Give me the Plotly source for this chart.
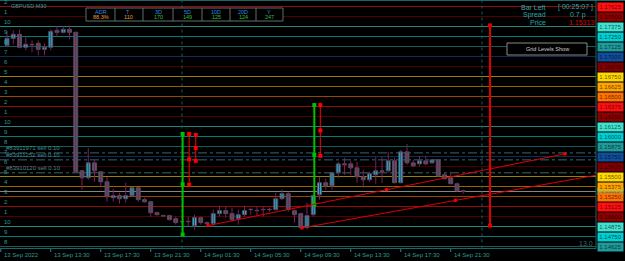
import plotly.graph_objects as go

# ---------------- data: GBPUSD M30, bars from 13 Sep 2022 10:00 ----------------
opens = [1.17140, 1.17227, 1.17277, 1.17115, 1.17152, 1.17165, 1.17090, 1.17115, 1.17327, 1.17302,
         1.17339, 1.17302, 1.15571, 1.15484, 1.15671, 1.15559, 1.15434, 1.15235, 1.15260, 1.15222,
         1.15260, 1.15359, 1.15210, 1.15185, 1.15048, 1.15011, 1.15011, 1.14973, 1.14936, 1.14936,
         1.14886, 1.14986, 1.14924, 1.14911, 1.15036, 1.15073, 1.15036, 1.14973, 1.15023, 1.15086,
         1.15073, 1.15086, 1.15086, 1.15086, 1.15222, 1.15285, 1.15073, 1.15036, 1.14861, 1.15023,
         1.15272, 1.15422, 1.15384, 1.15546, 1.15658, 1.15658, 1.15608, 1.15496, 1.15459, 1.15521,
         1.15571, 1.15571, 1.15696, 1.15422, 1.15808, 1.15671, 1.15658, 1.15696, 1.15671, 1.15708,
         1.15521, 1.15484, 1.15409, 1.15322]
highs = [1.17314, 1.17327, 1.17339, 1.17252, 1.17202, 1.17202, 1.17165, 1.17339, 1.17376, 1.17376,
         1.17389, 1.17314, 1.15584, 1.15857, 1.15708, 1.15559, 1.15496, 1.15347, 1.15297, 1.15422,
         1.15372, 1.15372, 1.15235, 1.15198, 1.15061, 1.15023, 1.15023, 1.14998, 1.14949, 1.14998,
         1.15023, 1.14998, 1.14936, 1.15086, 1.15135, 1.15123, 1.15110, 1.15086, 1.15135, 1.15110,
         1.15123, 1.15123, 1.15110, 1.15297, 1.15335, 1.15310, 1.15086, 1.15048, 1.15173, 1.15272,
         1.15496, 1.15471, 1.15559, 1.15683, 1.15733, 1.15696, 1.15683, 1.15584, 1.15559, 1.15745,
         1.15745, 1.15808, 1.15733, 1.15833, 1.15907, 1.15708, 1.15758, 1.15758, 1.15720, 1.15720,
         1.15546, 1.15559, 1.15422, 1.15335]
lows = [1.17115, 1.17152, 1.17102, 1.17078, 1.17053, 1.17015, 1.17015, 1.17078, 1.17252, 1.17289,
        1.17214, 1.15546, 1.15335, 1.15459, 1.15434, 1.15372, 1.15185, 1.15185, 1.15160, 1.15173,
        1.15247, 1.15185, 1.15173, 1.14998, 1.15011, 1.14998, 1.14949, 1.14899, 1.14924, 1.14874,
        1.14837, 1.14899, 1.14886, 1.14874, 1.14998, 1.14986, 1.14936, 1.14899, 1.14998, 1.15023,
        1.15011, 1.14998, 1.15061, 1.15073, 1.15210, 1.15061, 1.14924, 1.14837, 1.14837, 1.14998,
        1.15210, 1.15335, 1.15335, 1.15484, 1.15521, 1.15521, 1.15422, 1.15359, 1.15434, 1.15409,
        1.15422, 1.15546, 1.15422, 1.15422, 1.15646, 1.15621, 1.15633, 1.15646, 1.15658, 1.15496,
        1.15471, 1.15409, 1.15310, 1.15285]
closes = [1.17227, 1.17277, 1.17115, 1.17152, 1.17146, 1.17090, 1.17115, 1.17314, 1.17302, 1.17339,
          1.17302, 1.15559, 1.15484, 1.15671, 1.15571, 1.15434, 1.15247, 1.15260, 1.15222, 1.15260,
          1.15359, 1.15210, 1.15185, 1.15048, 1.15023, 1.15005, 1.14961, 1.14924, 1.14936, 1.14936,
          1.14986, 1.14924, 1.14911, 1.15036, 1.15073, 1.15036, 1.14961, 1.15023, 1.15073, 1.15086,
          1.15073, 1.15086, 1.15086, 1.15222, 1.15285, 1.15086, 1.15023, 1.14861, 1.15011, 1.15260,
          1.15422, 1.15384, 1.15546, 1.15658, 1.15646, 1.15608, 1.15496, 1.15459, 1.15534, 1.15571,
          1.15565, 1.15696, 1.15422, 1.15808, 1.15671, 1.15633, 1.15696, 1.15658, 1.15708, 1.15509,
          1.15471, 1.15409, 1.15322, 1.15313]
bar_pos = list(range(len(opens)))

time_tick_pos = [-1, 7, 15, 23, 31, 39, 47, 55, 63, 71]
time_tick_labels = ["13 Sep 2022", "13 Sep 13:30", "13 Sep 17:30", "13 Sep 21:30", "14 Sep 01:30",
                    "14 Sep 05:30", "14 Sep 09:30", "14 Sep 13:30", "14 Sep 17:30", "14 Sep 21:30"]
day_separators = [28, 76]

grid_levels = [1.17625, 1.17500, 1.17375, 1.17250, 1.17125, 1.17000, 1.16875, 1.16750, 1.16625,
               1.16500, 1.16375, 1.16250, 1.16125, 1.16000, 1.15875, 1.15750, 1.15625, 1.15500,
               1.15375, 1.15250, 1.15125, 1.15000, 1.14875, 1.14750, 1.14625]
grid_numbers = ["2", "1", "10", "9", "8", "7", "6", "5", "4", "3", "2", "1", "10", "9", "8", "7",
                "6", "5", "4", "3", "2", "1", "10", "9", "8"]
grid_cycle_colors = ["#ff1010", "#8b0000", "#40e0d0", "#00ced1", "#1e9a9a",
                     "#104e9b", "#800000", "#ffd700", "#ffa500", "#ff7000"]

trade_levels = [1.15795, 1.15708, 1.15546]
trade_labels = ["#83911971 sell 0.10", "#83911252 sell 0.10", "#83910120 sell 0.10"]

current_price = 1.15313

trend1_x, trend1_y = [32.16, 60.72, 89.28], [1.14886, 1.15335, 1.15783]
trend2_x, trend2_y = [47.2, 71.73], [1.14858, 1.15201]

# vertical range markers: (bar position, low, high, colour)
range_segments = [(28.1, 1.14774, 1.16032, "#00c000"),
                  (29.15, 1.15397, 1.16032, "#ff0000"),
                  (30.2, 1.15696, 1.16019, "#ff0000"),
                  (49.17, 1.15148, 1.16393, "#00c000"),
                  (50.13, 1.15758, 1.16393, "#ff0000")]
big_range = (77.28, 1.14886, 1.17389)

table_headers = ["ADR", "T", "3D", "5D", "10D", "20D", "Y"]
table_values = ["88.3%", "110", "170", "149", "125", "124", "247"]
table_value_colors = ["#e8a020", "#e0a030", "#30c030", "#30c030", "#30c030", "#30c030", "#30c030"]

# ---------------- layout constants ----------------
W, H = 625, 261
X_RANGE = [-1.12, 98.88]
Y_TOP = 1.1770625
Y_RANGE = [Y_TOP - 0.032625, Y_TOP]
PANE_RIGHT = 94.24
PANE_BOTTOM = 1.14600
TEAL_TXT = "#2e9a9a"
INFO_TXT = "#22aaaa"
FONT = "Liberation Sans"
WICK = "#7d1f5c"
BULL = "#00c8d6"
BEAR = "#4e5c66"
OUTLINE = "#5e4a60"


def px(x):
    return x / W


def py(y):
    return 1 - y / H


def rgba(hex_color, a):
    h = hex_color.lstrip("#")
    return "rgba(%d,%d,%d,%.2f)" % (int(h[0:2], 16), int(h[2:4], 16), int(h[4:6], 16), a)


fig = go.Figure()
shapes = []
annotations = []


def note(**kw):
    kw.setdefault("showarrow", False)
    kw.setdefault("xanchor", "center")
    kw.setdefault("yanchor", "middle")
    annotations.append(kw)


# grid levels
for i, lvl in enumerate(grid_levels):
    col = grid_cycle_colors[i % 10]
    shapes.append(dict(type="line", xref="x", yref="y", x0=X_RANGE[0], x1=PANE_RIGHT, y0=lvl, y1=lvl,
                       line=dict(color=rgba(col, 0.6), width=1), layer="below"))
    note(xref="paper", yref="y", x=px(2), y=lvl, xanchor="left", yanchor="bottom",
         text=grid_numbers[i], font=dict(family=FONT, size=6, color=TEAL_TXT))

# trade lines
for lvl, lab in zip(trade_levels, trade_labels):
    shapes.append(dict(type="line", xref="x", yref="y", x0=X_RANGE[0], x1=PANE_RIGHT, y0=lvl, y1=lvl,
                       line=dict(color="#3f6363", width=1, dash="dashdot"), layer="below"))
    note(xref="paper", yref="y", x=px(4), y=lvl, xanchor="left", yanchor="bottom",
         text=lab, font=dict(family=FONT, size=6, color="#3f8f8f"))

# bid line
shapes.append(dict(type="line", xref="x", yref="y", x0=X_RANGE[0], x1=PANE_RIGHT, y0=current_price,
                   y1=current_price, line=dict(color="#8a8a8a", width=1), layer="below"))

# day separators
for d in day_separators:
    shapes.append(dict(type="line", xref="x", yref="y", x0=d, x1=d, y0=PANE_BOTTOM, y1=Y_RANGE[1],
                       line=dict(color="#1f5a5a", width=1, dash="dot"), layer="below"))

# borders
shapes.append(dict(type="line", xref="x", yref="y", x0=PANE_RIGHT, x1=PANE_RIGHT, y0=PANE_BOTTOM,
                   y1=Y_RANGE[1], line=dict(color="#1e6464", width=1)))
shapes.append(dict(type="line", xref="x", yref="y", x0=X_RANGE[0], x1=PANE_RIGHT, y0=PANE_BOTTOM,
                   y1=PANE_BOTTOM, line=dict(color="#1e6464", width=1)))
shapes.append(dict(type="line", xref="paper", yref="paper", x0=0, x1=1, y0=py(0.5), y1=py(0.5),
                   line=dict(color="#1e6464", width=1)))

# time ticks
for tp, tl in zip(time_tick_pos, time_tick_labels):
    shapes.append(dict(type="line", xref="x", yref="paper", x0=tp, x1=tp, y0=py(252), y1=py(249),
                       line=dict(color="#2e8a8a", width=1)))
    note(xref="x", yref="paper", x=tp, y=py(255), xanchor="left", xshift=1, text=tl,
         font=dict(family=FONT, size=6, color=TEAL_TXT))

# candles: wicks
wx, wy = [], []
for i in range(len(opens)):
    wx += [bar_pos[i], bar_pos[i], None]
    wy += [lows[i], highs[i], None]
fig.add_trace(go.Scatter(x=wx, y=wy, mode="lines", line=dict(color=WICK, width=1), hoverinfo="skip"))

bases, heights, fills = [], [], []
for o, c in zip(opens, closes):
    bases.append(min(o, c))
    d = abs(c - o)
    heights.append(max(d, 0.00003))
    if d < 0.00004:
        fills.append(WICK)
    elif c > o:
        fills.append(BULL)
    else:
        fills.append(BEAR)
fig.add_trace(go.Bar(x=bar_pos, y=heights, base=bases, width=0.62,
                     marker=dict(color=fills, line=dict(color=OUTLINE, width=1)), hoverinfo="skip"))

# range segments
for xpos, lo, hi, col in range_segments:
    w = 2 if col == "#00c000" else 1
    fig.add_trace(go.Scatter(x=[xpos, xpos, xpos], y=[lo, (lo + hi) / 2, hi], mode="lines+markers",
                             line=dict(color=col, width=w),
                             marker=dict(symbol="square", size=4, color=col), hoverinfo="skip"))
bx, blo, bhi = big_range
fig.add_trace(go.Scatter(x=[bx, bx], y=[blo, bhi], mode="lines+markers", line=dict(color="#e00000", width=2),
                         marker=dict(symbol="square", size=4, color="#e00000"), hoverinfo="skip"))

# trend lines
fig.add_trace(go.Scatter(x=trend1_x, y=trend1_y, mode="lines+markers", line=dict(color="#e00000", width=1),
                         marker=dict(symbol="square", size=3, color="#ff0000"), hoverinfo="skip"))
slope = (trend2_y[1] - trend2_y[0]) / (trend2_x[1] - trend2_x[0])
ext_y = trend2_y[0] + slope * (PANE_RIGHT - trend2_x[0])
fig.add_trace(go.Scatter(x=[trend2_x[0], trend2_x[1], PANE_RIGHT], y=[trend2_y[0], trend2_y[1], ext_y],
                         mode="lines", line=dict(color="#e00000", width=1), hoverinfo="skip"))
fig.add_trace(go.Scatter(x=trend2_x, y=trend2_y, mode="markers",
                         marker=dict(symbol="square", size=3, color="#ff0000"), hoverinfo="skip"))

# price axis boxes (current-price box first, partly covered by the level boxes)
note(xref="paper", yref="y", x=px(610), y=current_price, text="1.15313",
     bgcolor="#00ced1", width=25, height=6, borderpad=0,
     font=dict(family=FONT, size=5, color="rgba(0,0,0,0.65)"))
for i, lvl in enumerate(grid_levels):
    col = grid_cycle_colors[i % 10]
    note(xref="paper", yref="y", x=px(610), y=lvl, text="%.5f" % lvl,
         bgcolor=col, width=25, height=8, borderpad=0,
         font=dict(family=FONT, size=6, color="rgba(0,0,0,0.65)"))

# header text
note(xref="paper", yref="paper", x=px(9), y=py(6), xanchor="left",
     text="GBPUSD,M30", font=dict(family=FONT, size=5.5, color=TEAL_TXT))

# stats table
shapes.append(dict(type="rect", xref="paper", yref="paper", x0=px(86), x1=px(283), y0=py(21), y1=py(8),
                   line=dict(color="#5f6f6f", width=1), fillcolor="black"))
col_centers = [101, 128, 158, 187, 216, 243, 269]
for sx in [115, 143, 173, 202, 230, 256]:
    shapes.append(dict(type="line", xref="paper", yref="paper", x0=px(sx), x1=px(sx), y0=py(21), y1=py(8),
                       line=dict(color="#5f6f6f", width=1)))
for cx, hd, val, vc in zip(col_centers, table_headers, table_values, table_value_colors):
    note(xref="paper", yref="paper", x=px(cx), y=py(12.3), text=hd,
         font=dict(family=FONT, size=5.5, color="#2a8ae0"))
    note(xref="paper", yref="paper", x=px(cx), y=py(17.3), text=val,
         font=dict(family=FONT, size=5.5, color=vc))

# top-right info
info = [("Bar Left", 548, 7, "[ 00:25:07 ]", 556, INFO_TXT),
        ("Spread", 548, 15, "0.7 p", 568, INFO_TXT),
        ("Price", 548, 23, "1.15313", 567, "#e00000")]
for lab, lx, ly, val, vx, vcol in info:
    note(xref="paper", yref="paper", x=px(lx), y=py(ly), xanchor="right",
         text=lab, font=dict(family=FONT, size=7, color=INFO_TXT))
    note(xref="paper", yref="paper", x=px(vx), y=py(ly), xanchor="left",
         text=val, font=dict(family=FONT, size=7, color=vcol))

# button
shapes.append(dict(type="rect", xref="paper", yref="paper", x0=px(507), x1=px(587), y0=py(55), y1=py(43),
                   line=dict(color="#8a8a8a", width=1), fillcolor="black"))
note(xref="paper", yref="paper", x=px(547), y=py(49), text="Grid Levels Show",
     font=dict(family=FONT, size=5.5, color="#d0d0d0"))

note(xref="paper", yref="paper", x=px(586), y=py(243), text="13.0",
     font=dict(family=FONT, size=7, color="#3a6b6b"))

fig.update_layout(
    width=W, height=H, margin=dict(l=0, r=0, t=0, b=0),
    paper_bgcolor="black", plot_bgcolor="black",
    showlegend=False, barmode="overlay",
    xaxis=dict(range=X_RANGE, visible=False, showgrid=False, zeroline=False, fixedrange=True),
    yaxis=dict(range=Y_RANGE, visible=False, showgrid=False, zeroline=False, fixedrange=True),
    shapes=shapes, annotations=annotations,
)

fig.write_html("out.html")
